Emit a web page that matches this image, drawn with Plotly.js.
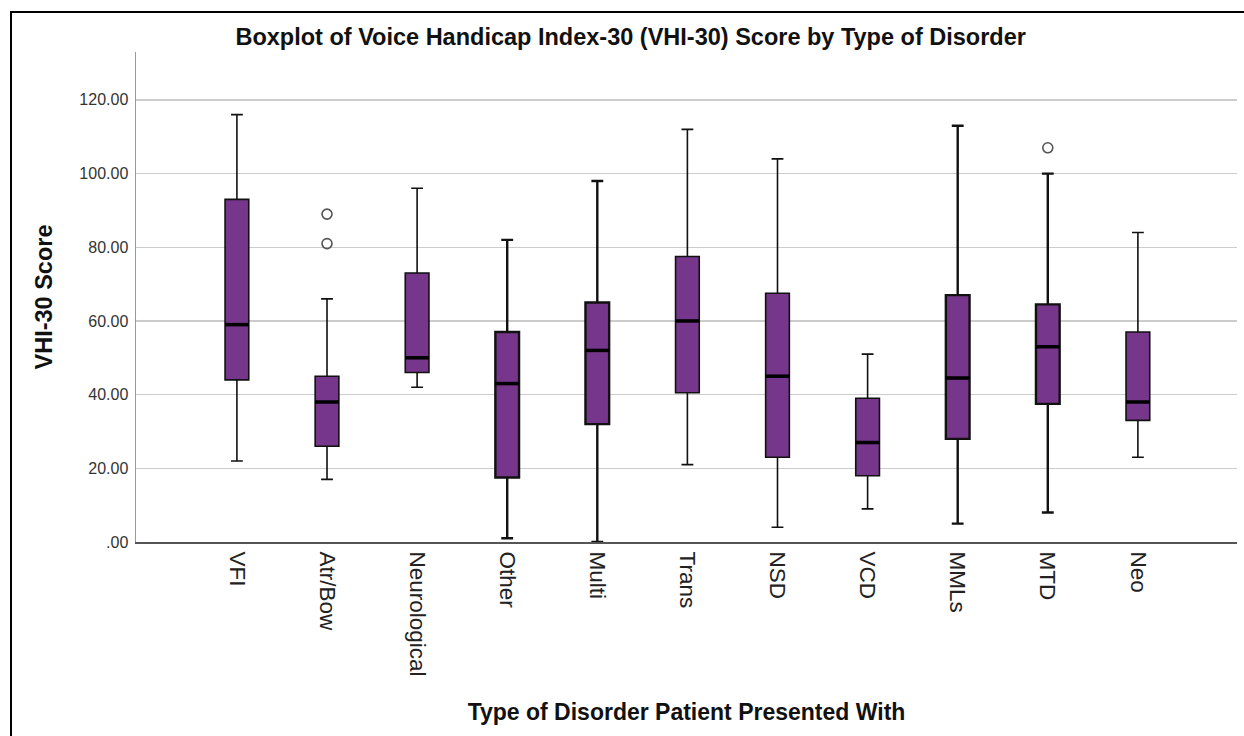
<!DOCTYPE html>
<html>
<head>
<meta charset="utf-8">
<script src="https://cdn.plot.ly/plotly-3.0.1.min.js"></script>
<style>
  html, body { margin: 0; padding: 0; background: #fff; }
  #chart { width: 1244px; height: 736px; position: absolute; left: 0; top: 0; }
  #frame { position: absolute; left: 10px; top: 11px; width: 1250px; height: 740px;
           border-left: 2px solid #000; border-top: 2px solid #000; pointer-events: none; }
</style>
</head>
<body>
<div id="chart"></div>
<div id="frame"></div>
<script>
// Categories (type of disorder)
const categories = ['VFI', 'Atr/Bow', 'Neurological', 'Other', 'Multi', 'Trans', 'NSD', 'VCD', 'MMLs', 'MTD', 'Neo'];

// Box statistics (VHI-30 score)
const lowerWhisker = [22, 17, 42, 1, 0, 21, 4, 9, 5, 8, 23];
const q1Values     = [44, 26, 46, 17.5, 32, 40.5, 23, 18, 28, 37.5, 33];
const medianValues = [59, 38, 50, 43, 52, 60, 45, 27, 44.5, 53, 38];
const q3Values     = [93, 45, 73, 57, 65, 77.5, 67.5, 39, 67, 64.5, 57];
const upperWhisker = [116, 66, 96, 82, 98, 112, 104, 51, 113, 100, 84];

// Outliers
const outlierCategories = ['Atr/Bow', 'Atr/Bow', 'MTD'];
const outlierValues     = [89, 81, 107];

// Y-axis tick labels
const yTickValues = [0, 20, 40, 60, 80, 100, 120];
const yTickLabels = ['.00', '20.00', '40.00', '60.00', '80.00', '100.00', '120.00'];

// Style: whisker/outline weight per box (as drawn in the original)
const lineWeights = [1.6, 1.6, 1.6, 2.4, 2.4, 1.6, 1.6, 1.6, 2.4, 2.4, 1.6];

const font = 'Arial, "Liberation Sans", sans-serif';

const boxTraces = categories.map((c, i) => ({
  type: 'box',
  x: [c],
  q1: [q1Values[i]],
  median: [medianValues[i]],
  q3: [q3Values[i]],
  lowerfence: [lowerWhisker[i]],
  upperfence: [upperWhisker[i]],
  fillcolor: 'rgb(118,54,139)',
  line: { color: '#111', width: lineWeights[i] },
  width: 0.263,
  whiskerwidth: 0.5,
  boxpoints: false,
  hoverinfo: 'skip',
  showlegend: false
}));

const medianTrace = {
  type: 'scatter',
  mode: 'markers',
  x: categories,
  y: medianValues,
  marker: { symbol: 'line-ew', size: 17, line: { color: '#000', width: 3.5 } },
  hoverinfo: 'skip',
  showlegend: false
};

const outlierTrace = {
  type: 'scatter',
  mode: 'markers',
  x: outlierCategories,
  y: outlierValues,
  marker: { symbol: 'circle-open', size: 10, color: '#555', line: { color: '#555', width: 1.6 } },
  hoverinfo: 'skip',
  showlegend: false
};

const layout = {
  width: 1244,
  height: 736,
  margin: { l: 136, r: 7, t: 52, b: 194 },
  paper_bgcolor: '#fff',
  plot_bgcolor: '#fff',
  font: { family: font, color: '#222' },
  boxmode: 'overlay',
  title: {
    text: '<b>Boxplot of Voice Handicap Index-30 (VHI-30) Score by Type of Disorder</b>',
    font: { family: font, size: 23.5, color: '#111' },
    x: 0.507, xanchor: 'center', y: 0.95, yanchor: 'middle', yref: 'container'
  },
  xaxis: {
    type: 'category',
    categoryorder: 'array',
    categoryarray: categories,
    range: [-1.12, 11.1],
    tickangle: 90,
    tickfont: { family: font, size: 22.5, color: '#222' },
    ticklabelstandoff: 3,
    showgrid: false,
    showline: true,
    linecolor: '#555',
    linewidth: 2,
    ticks: '',
    zeroline: false,
    title: {
      text: '<b>Type of Disorder Patient Presented With</b>',
      font: { family: font, size: 23, color: '#111' },
      standoff: 28
    }
  },
  yaxis: {
    range: [0, 133],
    tickvals: yTickValues,
    ticktext: yTickLabels,
    tickfont: { family: font, size: 16, color: '#333' },
    ticklabelstandoff: 3,
    showgrid: true,
    gridcolor: '#cccccc',
    gridwidth: 1.5,
    showline: true,
    linecolor: '#999',
    linewidth: 1.5,
    ticks: '',
    zeroline: false,
    title: {
      text: '<b>VHI-30 Score</b>',
      font: { family: font, size: 23.5, color: '#111' },
      standoff: 20
    }
  }
};

Plotly.newPlot('chart', [...boxTraces, medianTrace, outlierTrace], layout, { staticPlot: true, displayModeBar: false });
</script>
</body>
</html>
